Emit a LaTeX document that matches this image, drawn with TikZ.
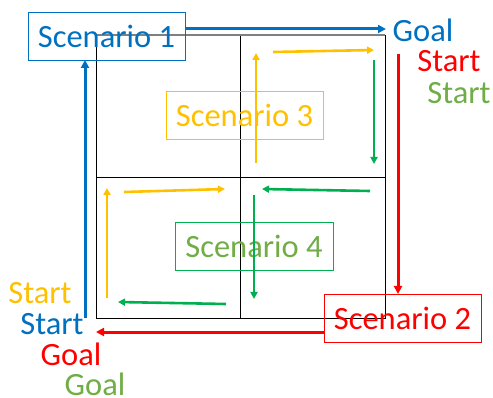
\documentclass[tikz,border=0pt]{standalone}
\usepackage{fontspec}
\setmainfont{Carlito}
\usetikzlibrary{arrows.meta}
\definecolor{cblue}{HTML}{0070C0}
\definecolor{cred}{HTML}{FF0000}
\definecolor{cyel}{HTML}{FFC000}
\definecolor{cgrn}{HTML}{00B050}
\definecolor{cgtx}{HTML}{70AD47}
\tikzset{
  scen/.style={draw, line width=0.9pt, minimum width=157pt, minimum height=48pt, inner sep=0pt, font=\fontsize{32.5}{38}\selectfont},
  lbl/.style={inner sep=0pt, font=\fontsize{32.5}{38}\selectfont},
  bigarrow/.style={line width=3pt, -{Triangle[length=8pt,width=8pt]}},
  smallarrow/.style={line width=2.6pt, -{Triangle[length=7pt,width=7pt]}},
}
\begin{document}
\begin{tikzpicture}[x=1pt,y=-1pt]
\useasboundingbox (0,0) rectangle (493,398);
% grid
\draw[line width=0.9pt] (96,35) rectangle (385,318);
\draw[line width=0.9pt] (240,35) -- (240,318);
\draw[line width=0.9pt] (96,177) -- (385,177);
\draw[line width=1.8pt, gray] (96,35) -- (385,35);
% scenario boxes
\node[scen, draw=cblue, text=cblue] (s1) at (106.5,36) {Scenario 1};
\node[scen, draw=cred, text=cred] (s2) at (402.5,318) {Scenario 2};
\node[scen, draw=cyel, text=cyel] (s3) at (244.5,115) {Scenario 3};
\node[scen, draw=cgrn, text=cgtx, minimum width=158pt] (s4) at (254,246) {Scenario 4};
% labels
\node[lbl, text=cblue] (goalb) at (423,30) {Goal};
\node[lbl, text=cred] (startr) at (449,61) {Start};
\node[lbl, text=cgtx] (startg) at (459,93) {Start};
\node[lbl, text=cyel] (starty) at (40,293) {Start};
\node[lbl, text=cblue] (startb) at (52,324) {Start};
\node[lbl, text=cred] (goalr) at (71,354) {Goal};
\node[lbl, text=cgtx] (goalg) at (95,384) {Goal};
% coordinates
\coordinate (b1) at (185,29);
\coordinate (b2) at (386,29);
\coordinate (b3) at (85,318);
\coordinate (b4) at (85,60);
\coordinate (r1) at (398,54);
\coordinate (r2) at (398,294);
\coordinate (r3) at (324,332);
\coordinate (r4) at (96,332);
% main arrows
\draw[bigarrow, cblue] (b1) -- (b2);
\draw[bigarrow, cblue] (b3) -- (b4);
\draw[bigarrow, cred] (r1) -- (r2);
\draw[bigarrow, cred] (r3) -- (r4);
% inner arrows
\coordinate (y1) at (256,163);
\coordinate (y2) at (256,53);
\coordinate (y3) at (273,52);
\coordinate (y4) at (374,50);
\coordinate (y5) at (107,298);
\coordinate (y6) at (107,188);
\coordinate (y7) at (124,192);
\coordinate (y8) at (225,189);
\coordinate (g1) at (374,60);
\coordinate (g2) at (374,164);
\coordinate (g3) at (370,191);
\coordinate (g4) at (262,189);
\coordinate (g5) at (254,195);
\coordinate (g6) at (254,299);
\coordinate (g7) at (226,304);
\coordinate (g8) at (118,302);
\draw[smallarrow, cyel] (y1) -- (y2);
\draw[smallarrow, cyel] (y3) -- (y4);
\draw[smallarrow, cyel] (y5) -- (y6);
\draw[smallarrow, cyel] (y7) -- (y8);
\draw[smallarrow, cgrn] (g1) -- (g2);
\draw[smallarrow, cgrn] (g3) -- (g4);
\draw[smallarrow, cgrn] (g5) -- (g6);
\draw[smallarrow, cgrn] (g7) -- (g8);
\end{tikzpicture}
\end{document}
